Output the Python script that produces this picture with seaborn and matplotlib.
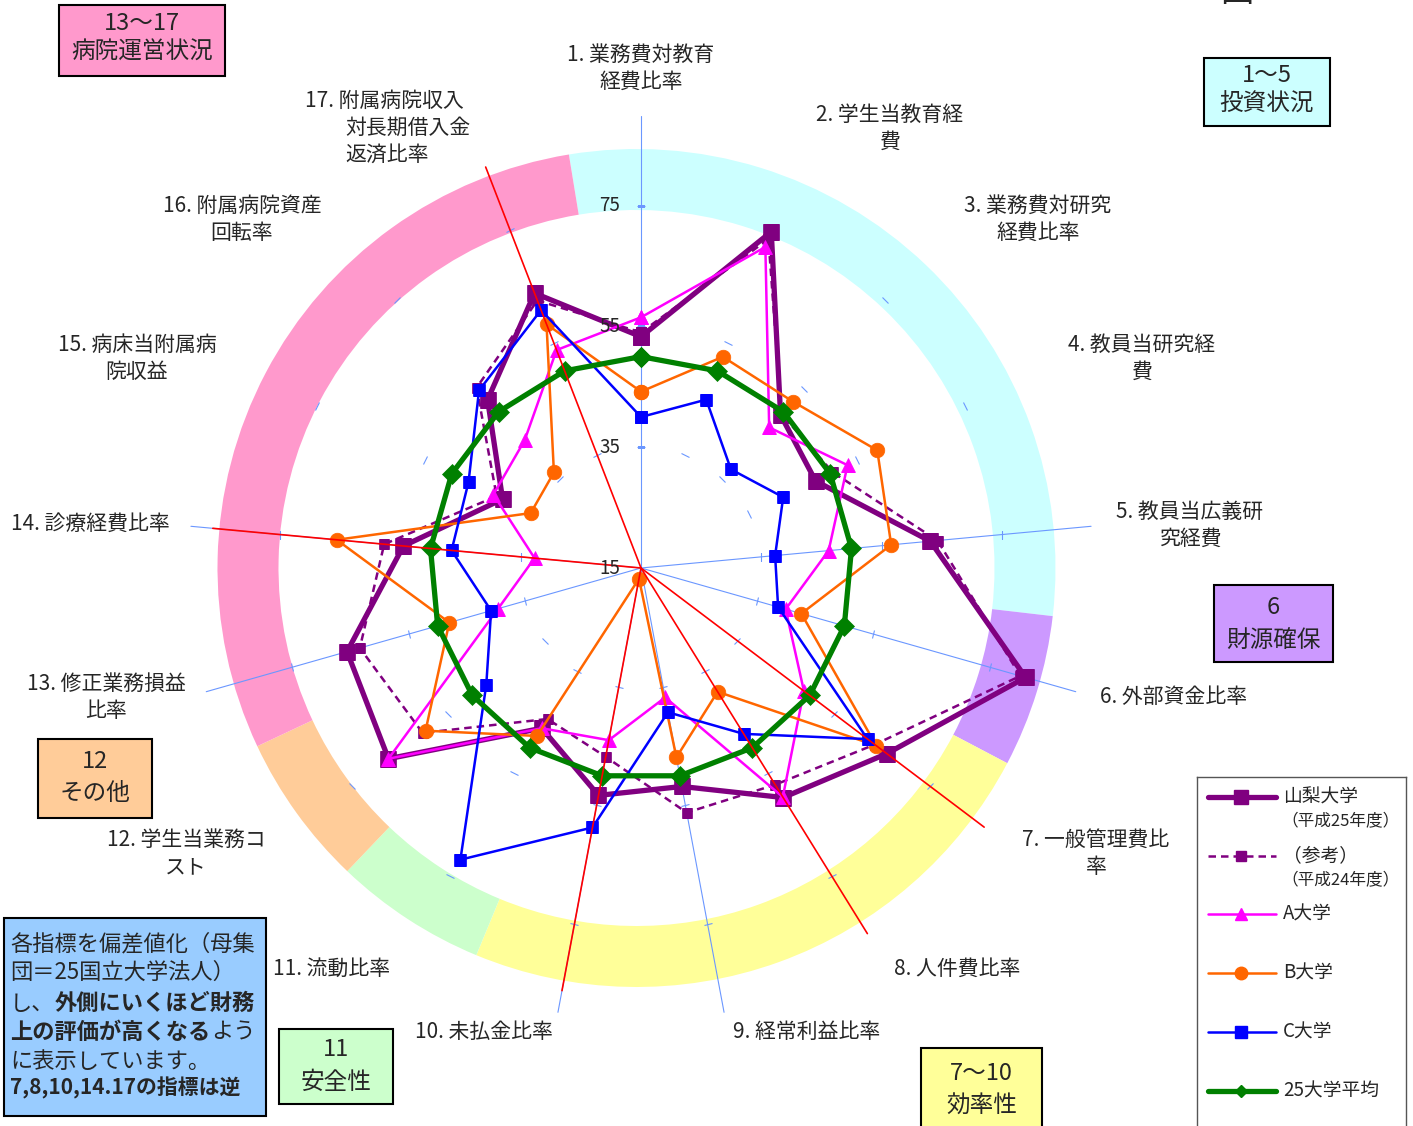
import numpy as np
import pandas as pd
import matplotlib.pyplot as plt
import seaborn as sns
from matplotlib.patches import Rectangle
from matplotlib.markers import MarkerStyle
from matplotlib.transforms import Affine2D, ScaledTranslation

sns.set_theme(style='white')
plt.rcParams['font.family'] = ['Noto Sans CJK JP', 'DejaVu Sans']

# ---- data ---------------------------------------------------------------
indicators = [
    "1. 業務費対教育\n経費比率", "2. 学生当教育経\n費", "3. 業務費対研究\n経費比率",
    "4. 教員当研究経\n費", "5. 教員当広義研\n究経費", "6. 外部資金比率",
    "7. 一般管理費比\n率", "8. 人件費比率", "9. 経常利益比率", "10. 未払金比率",
    "11. 流動比率", "12. 学生当業務コ\nスト", "13. 修正業務損益\n比率",
    "14. 診療経費比率", "15. 病床当附属病\n院収益", "16. 附属病院資産\n回転率",
    "17. 附属病院収入\n対長期借入金\n返済比率",
]
reversed_axes = [7, 8, 10, 14, 17]
scale_ticks = [15, 35, 55, 75]

yamanashi_h25 = [53.3, 74.7, 49.3, 47.3, 63.1, 81.2, 66.0, 59.7, 51.8, 53.3, 46.2, 67.4, 65.6, 54.5, 40.6, 52.7, 63.8]
yamanashi_h24 = [54.0, 73.4, 49.5, 50.5, 64.3, 80.3, 63.5, 57.2, 56.2, 46.8, 44.4, 60.3, 63.4, 57.7, 41.7, 55.4, 62.5]
univ_a = [56.5, 72.0, 46.5, 53.2, 46.2, 39.9, 48.8, 59.6, 36.8, 44.0, 46.2, 67.4, 39.6, 32.7, 42.3, 43.6, 53.7]
univ_b = [44.2, 52.5, 52.3, 58.7, 56.6, 42.6, 63.8, 39.1, 46.9, 16.8, 47.7, 59.7, 48.0, 65.6, 35.4, 36.4, 58.3]
univ_c = [40.0, 44.9, 37.1, 41.3, 37.3, 38.6, 62.0, 47.3, 39.3, 58.7, 71.8, 47.1, 40.8, 46.5, 46.9, 54.8, 60.8]
avg_25 = [50.0] * 17

series_names = ["山梨大学\n（平成25年度）", "（参考）\n（平成24年度）", "A大学", "B大学", "C大学", "25大学平均"]
series_values = [yamanashi_h25, yamanashi_h24, univ_a, univ_b, univ_c, avg_25]

group_titles = ["1～5\n投資状況", "6\n財源確保", "7～10\n効率性", "11\n安全性", "12\nその他", "13～17\n病院運営状況"]
group_first = [1, 6, 7, 11, 12, 13]
group_last = [5, 6, 10, 11, 12, 17]

note_lines = [
    [("各指標を偏差値化（母集", "normal")],
    [("団＝25国立大学法人）", "normal")],
    [("し、", "normal"), ("外側にいくほど財務", "bold")],
    [("上の評価が高くなる", "bold"), ("よう", "normal")],
    [("に表示しています。", "normal")],
    [("7,8,10,14.17の指標は逆", "bold")],
]

# ---- layout / style -----------------------------------------------------
W, H = 1413, 1126
cx, cy = 641, 568
ppu = 6.04          # pixels per score point
R = 470             # radius of polar axes in px


def fx(x):
    return x / W


def fy(y):
    return 1 - y / H


def rv(px):
    return 15 + px / ppu


fig = plt.figure(figsize=(W / 100, H / 100), dpi=100)
fig.patch.set_facecolor('white')

# colour ring (its centre sits a few px left of the chart centre)
rcx = 636.5
ring = fig.add_axes([fx(rcx - R), fy(cy + R), 2 * R / W, 2 * R / H], projection='polar')
ring_colors = ['#CCFFFF', '#CC99FF', '#FFFF99', '#CCFFCC', '#FFCC99', '#FF99CC']
n = len(indicators)
step = 2 * np.pi / n
ring_shift = np.radians(1.3)
for f, l, c in zip(group_first, group_last, ring_colors):
    a0 = (f - 1.5) * step + ring_shift
    a1 = (l - 0.5) * step + ring_shift
    ring.bar((a0 + a1) / 2, rv(419) - rv(358), width=a1 - a0, bottom=rv(358),
             color=c, edgecolor='none', align='center')
ring.set_theta_zero_location('N')
ring.set_theta_direction(-1)
ring.set_ylim(15, rv(R))
ring.axis('off')

ax = fig.add_axes([fx(cx - R), fy(cy + R), 2 * R / W, 2 * R / H], projection='polar')
ax.set_theta_zero_location('N')
ax.set_theta_direction(-1)
ax.patch.set_alpha(0)

theta = np.arange(n) * step
axis_blue = '#6b97ff'
blue_axes = [1, 5, 6, 9, 10, 13, 14]
for k in blue_axes:
    ax.plot([theta[k - 1]] * 2, [15, rv(452)], color=axis_blue, lw=0.8, zorder=2)
for k in range(1, n + 1):
    deg = np.degrees(theta[k - 1])
    mk = MarkerStyle('_', transform=Affine2D().rotate_deg(-deg))
    for v in scale_ticks[1:]:
        ax.plot([theta[k - 1]], [v], marker=mk, ms=6, mew=0.8, color=axis_blue, zorder=2)
for k in reversed_axes:
    ax.plot([theta[k - 1]] * 2, [15, rv(430)], color='red', lw=1.2, zorder=8)

styles = [
    dict(color='#800080', lw=3.8, marker='s', ms=11.5),
    dict(color='#800080', lw=1.8, marker='s', ms=7, linestyle=(0, (3, 2))),
    dict(color='#FF00FF', lw=1.8, marker='^', ms=10),
    dict(color='#FF6600', lw=1.8, marker='o', ms=10.5),
    dict(color='#0000FF', lw=1.8, marker='s', ms=9),
    dict(color='#008000', lw=3.8, marker='D', ms=10.5),
]
for i, (vals, st) in enumerate(zip(series_values, styles)):
    df = pd.DataFrame({'theta': np.append(theta, 2 * np.pi), 'value': vals + vals[:1]})
    sns.lineplot(data=df, x='theta', y='value', sort=False, estimator=None, ax=ax,
                 mec=st['color'], mew=0.5, zorder=3 + i * 0.1, **st)

ax.set_ylim(15, rv(R))
ax.set_xticks([])
ax.set_yticks([])
ax.grid(False)
ax.spines['polar'].set_visible(False)
ax.set_xlabel('')
ax.set_ylabel('')

off = ScaledTranslation(-0.21, 0, fig.dpi_scale_trans)
for v in scale_ticks:
    ax.text(0, v, str(v), ha='right', va='center', fontsize=13.5,
            transform=ax.transData + off, zorder=9)

# ---- indicator labels ---------------------------------------------------
label_xy = [(641, 55), (890, 115), (1038, 206), (1142, 345), (1190, 512), (1174, 697),
            (1096, 840), (957, 969), (807, 1032), (484, 1032), (332, 969), (186, 840),
            (106, 684), (90, 524), (137, 345), (242, 206), (305, 101)]
for k, (lab, (x, y)) in enumerate(zip(indicators, label_xy)):
    lines = lab.split('\n')
    for j, s in enumerate(lines):
        if k == 16:
            fig.text(fx(x if j == 0 else 345), fy(y + 27 * j), s, ha='left', va='center', fontsize=15)
        else:
            fig.text(fx(x), fy(y + 27 * j), s, ha='center', va='center', fontsize=15)

# ---- group boxes --------------------------------------------------------
box_rects = [(1204, 58, 1330, 126), (1214, 585, 1333, 662), (921, 1048, 1042, 1140),
             (279, 1029, 393, 1104), (38, 739, 152, 818), (59, 5, 225, 76)]
box_text_y = [(76, 104), (608, 640), (1073, 1106), (1050, 1082), (762, 793), (24, 52)]
for title, c, (x0, y0, x1, y1), tys in zip(group_titles, ring_colors, box_rects, box_text_y):
    fig.add_artist(Rectangle((fx(x0), fy(y1)), (x1 - x0) / W, (y1 - y0) / H,
                             transform=fig.transFigure, facecolor=c, edgecolor='black', lw=1.5))
    for s, ty in zip(title.split('\n'), tys):
        fig.text(fx((x0 + x1) / 2), fy(ty), s, ha='center', va='center', fontsize=17)

# ---- note box -----------------------------------------------------------
fig.add_artist(Rectangle((fx(4), fy(1116)), 262 / W, 198 / H, transform=fig.transFigure,
                         facecolor='#99CCFF', edgecolor='black', lw=1.5))
note_y = [944, 972, 1003, 1032, 1061, 1088]
note_x = {"外側にいくほど財務": 55, "よう": 211}
for parts, y in zip(note_lines, note_y):
    for s, w in parts:
        size = 15 if s.startswith('7,8') else 16
        fig.text(fx(note_x.get(s, 10)), fy(y), s, ha='left', va='center', fontsize=size, fontweight=w)

# ---- legend -------------------------------------------------------------
lax = fig.add_axes([fx(1197), 0, 209 / W, (H - 777) / H])
lax.set_xlim(1197, 1406)
lax.set_ylim(H, 777)
lax.set_xticks([])
lax.set_yticks([])
for sp in ['top', 'left', 'right']:
    lax.spines[sp].set_color('#555555')
    lax.spines[sp].set_linewidth(1)
lax.spines['bottom'].set_visible(False)
leg_y = [797, 856, 914, 973, 1032, 1091]
leg_ms = [10, 6.5, 9, 9, 9, 6]
for name, st, y, ms in zip(series_names, styles, leg_y, leg_ms):
    lst = st.get('linestyle', '-')
    lax.plot([1208, 1276], [y, y], color=st['color'], lw=st['lw'], linestyle=lst,
             solid_capstyle='round')
    lax.plot([1241], [y], marker=st['marker'], ms=ms, color=st['color'], mec=st['color'])
    for j, s in enumerate(name.split('\n')):
        if j == 0:
            lax.text(1283, y, s, ha='left', va='center', fontsize=13.5)
        else:
            lax.text(1281, y + 25 * j, s, ha='left', va='center', fontsize=12)

fig.text(fx(1237), fy(1), '図', ha='center', va='baseline', fontsize=24)

fig.savefig('out.png', dpi=100)
